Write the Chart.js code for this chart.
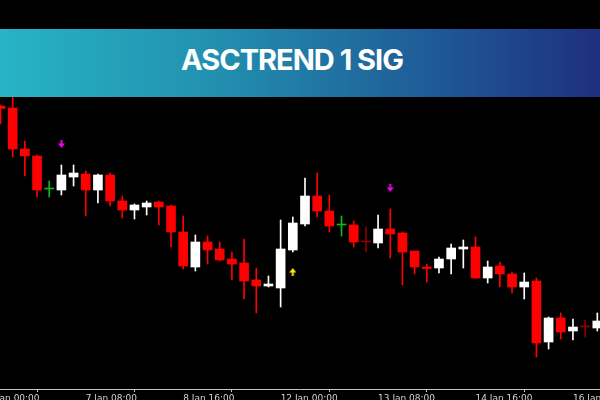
<!DOCTYPE html>
<html><head><meta charset="utf-8">
<script src="https://cdn.jsdelivr.net/npm/chart.js@4.4.1/dist/chart.umd.min.js"></script>
<style>
html,body{margin:0;padding:0;background:#000;}
#wrap{position:relative;width:600px;height:400px;overflow:hidden;background:#000;}
canvas{position:absolute;left:0;top:0;}
#banner{position:absolute;left:0;top:29px;width:600px;height:68px;background:linear-gradient(to right,#27b4c5 0%,#2291b0 35%,#1f5d98 70%,#1e2f80 100%);}
#title{position:absolute;left:0;top:16px;width:584px;text-align:center;color:#fff;font:700 29px/29px Inter,sans-serif;letter-spacing:-1px;white-space:nowrap;}
</style></head>
<body><div id="wrap"><canvas id="c" width="600" height="400"></canvas><div id="banner"><div id="title">ASCTREND 1 SIG</div></div></div>
<script>
// H4 candles (price units)
const opens  = [294,292,251,244,211,210,223,226,210,225,199,190,193,198,194,168,133,158,151,141,137,120,114,112,150,176,204,189,175,175,158,157,171,167,149,133,132,141,151,153,122,134,126,113,119,58,82,69,73,72];
const highs  = [295,305,259,245,219,235,235,229,226,227,204,196,199,199,195,184,165,164,158,148,161,132,124,180,183,222,227,205,184,179,173,185,191,168,149,136,143,156,160,163,139,138,128,127,122,83,87,81,80,87];
const lows   = [276,243,224,203,203,205,214,184,197,194,182,181,185,175,153,131,129,136,139,120,101,87,113,93,148,174,183,168,164,153,148,152,142,115,126,118,127,126,132,121.5,117,113,107,101,43,51,61,60,63,69];
const closes = [291.5,251,244,210,211,225,227,210,225,199,190,195,197,193,168,134,158,150,140,136,119,114,116,151,177,204,189,174,175,158,158,171,166,148,133,131.5,141,152,153,122,133,126,113,118,57,82,68,73,73,79];
// x-axis tick labels (every 8 bars)
const tickIndex  = [-1,7,15,23,31,39,47];
const tickLabels = ['6 Jan 00:00','7 Jan 08:00','8 Jan 16:00','12 Jan 00:00','13 Jan 08:00','14 Jan 16:00','16 Jan 00:00'];
// AscTrend signals
const sellIdx = [5,32],  sellPrice = [256,212];
const buyIdx  = [24],    buyPrice  = [128];
// colour of flat (open == close) bars
const dojiColors = {4:'#14b814',28:'#14b814',30:'#8b0000',48:'#8b0000'};

const UP='#ffffff', DOWN='#ff0000';
const colorOf = i => closes[i] > opens[i] ? UP : (closes[i] < opens[i] ? DOWN : (dojiColors[i] || UP));
const colors = opens.map((_, i) => colorOf(i));

function arrowCanvas(color, down){
  const c = document.createElement('canvas'); c.width = 7; c.height = 8;
  const g = c.getContext('2d'); g.fillStyle = color;
  if (down){ g.fillRect(2.5,0,2,4); g.beginPath(); g.moveTo(0,3.5); g.lineTo(7,3.5); g.lineTo(3.5,8); g.closePath(); g.fill(); }
  else { g.fillRect(2.5,4,2,4); g.beginPath(); g.moveTo(0,4.5); g.lineTo(7,4.5); g.lineTo(3.5,0); g.closePath(); g.fill(); }
  return c;
}

const bodies = opens.map((o, i) => ({x: i, y: [o, closes[i]]}));
const wicks  = opens.map((o, i) => ({x: i, y: [lows[i], highs[i]]}));
const SPACING = 12.18, FIRST = 0.49;

new Chart(document.getElementById('c'), {
  type: 'bar',
  data: { datasets: [
    { label:'body', data: bodies, backgroundColor: colors, barThickness: 9, minBarLength: 1, grouped: false, borderWidth: 0 },
    { label:'wick', data: wicks, backgroundColor: colors, barThickness: 1, grouped: false, borderWidth: 0 },
    { type:'scatter', label:'sell', data: sellIdx.map((x,k)=>({x, y: sellPrice[k]})), pointStyle: arrowCanvas('#f000f0', true), pointRadius: 4 },
    { type:'scatter', label:'buy', data: buyIdx.map((x,k)=>({x, y: buyPrice[k]})), pointStyle: arrowCanvas('#ffee00', false), pointRadius: 4 }
  ]},
  options: {
    responsive: false, animation: false, devicePixelRatio: 1,
    layout: { padding: 0, autoPadding: false },
    plugins: { legend: {display:false}, tooltip: {enabled:false} },
    scales: {
      x: {
        type: 'linear', bounds: 'data', offset: false,
        min: -FIRST / SPACING, max: (600 - FIRST) / SPACING,
        afterBuildTicks: s => { s.ticks = tickIndex.map(v => ({value: v})); },
        afterFit: s => { s.height = 11; s.paddingLeft = 0; s.paddingRight = 0; },
        ticks: { autoSkip: false, maxRotation: 0, align: 'start', padding: 1, color: '#d2d2d2',
                 font: { family: 'DejaVu Sans', size: 9 },
                 callback: v => tickLabels[tickIndex.indexOf(v)] },
        grid: { display: true, drawOnChartArea: false, drawTicks: true, tickLength: 3, color: '#c8c8c8' },
        border: { display: true, color: '#c8c8c8' }
      },
      y: { display: false, min: 11, max: 400 }
    }
  }
});
</script>
</body></html>
